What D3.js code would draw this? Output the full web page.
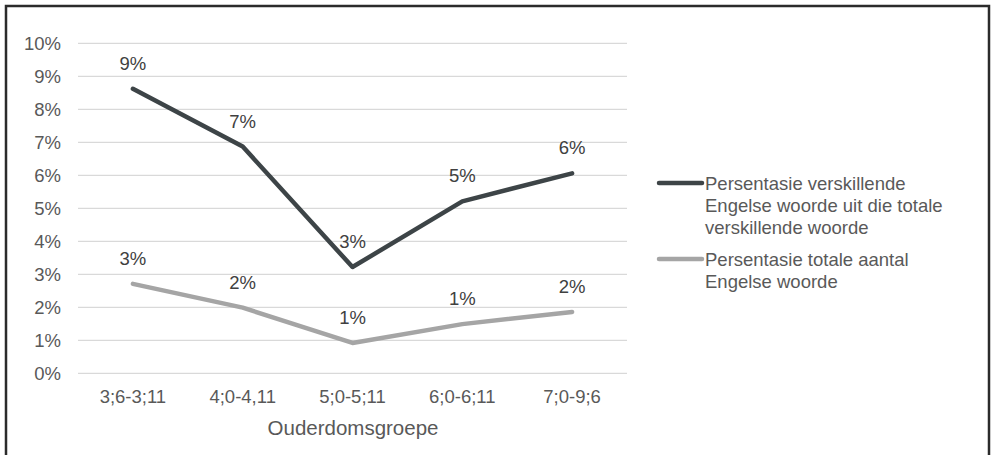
<!DOCTYPE html>
<meta charset="utf-8">
<head>
<script src="https://d3js.org/d3.v7.min.js"></script>
<style>
    body { margin: 0; background: #fff; }
    text { font-family: "Liberation Sans", Arial, sans-serif; fill: #595959; font-size: 18.5px; }
    .grid line { stroke: #d9d9d9; stroke-width: 1.3px; }
</style>
</head>
<body>
<svg id="chart" width="991" height="455"></svg>
<script>
    // chart data
    var groups = ["3;6-3;11", "4;0-4,11", "5;0-5;11", "6;0-6;11", "7;0-9;6"];
    var distinctPct = [8.62, 6.87, 3.22, 5.21, 6.06];
    var totalPct = [2.71, 1.99, 0.92, 1.49, 1.86];
    var yTicks = [0, 1, 2, 3, 4, 5, 6, 7, 8, 9, 10];
    var seriesNames = [
      ["Persentasie verskillende", "Engelse woorde uit die totale", "verskillende woorde"],
      ["Persentasie totale aantal", "Engelse woorde"]
    ];
    var colors = ["#3d4447", "#a5a5a5"];

    var svg = d3.select("#chart");

    // outer frame (no bottom edge in the picture)
    svg.append("path")
      .attr("d", "M6,455 V6 H989 V455")
      .attr("fill", "none")
      .attr("stroke", "#2b2b2b")
      .attr("stroke-width", 2.5);

    var x = d3.scaleBand().domain(groups).range([78, 627]);
    var y = d3.scaleLinear().domain([0, 10]).range([373.3, 43.3]);
    var cx = function(i) { return x(groups[i]) + x.bandwidth() / 2; };

    // gridlines
    svg.append("g").attr("class", "grid")
      .selectAll("line").data(yTicks).enter().append("line")
      .attr("x1", 78).attr("x2", 627)
      .attr("y1", function(d) { return y(d); })
      .attr("y2", function(d) { return y(d); });

    // y labels
    svg.append("g").selectAll("text").data(yTicks).enter().append("text")
      .attr("x", 61).attr("y", function(d) { return y(d); })
      .attr("dy", "0.35em")
      .attr("text-anchor", "end")
      .text(function(d) { return d + "%"; });

    // x labels
    svg.append("g").selectAll("text").data(groups).enter().append("text")
      .attr("x", function(d, i) { return cx(i); })
      .attr("y", 403)
      .attr("text-anchor", "middle")
      .text(function(d) { return d; });

    svg.append("text")
      .attr("x", 353).attr("y", 435)
      .attr("text-anchor", "middle")
      .style("font-size", "20.5px")
      .text("Ouderdomsgroepe");

    var line = d3.line()
      .x(function(d, i) { return cx(i); })
      .y(function(d) { return y(d); });

    [distinctPct, totalPct].forEach(function(vals, s) {
      svg.append("path")
        .datum(vals)
        .attr("d", line)
        .attr("fill", "none")
        .attr("stroke", colors[s])
        .attr("stroke-width", 4.5)
        .attr("stroke-linecap", "round")
        .attr("stroke-linejoin", "round");

      svg.append("g").selectAll("text").data(vals).enter().append("text")
        .attr("x", function(d, i) { return cx(i); })
        .attr("y", function(d) { return y(d) - 19; })
        .attr("text-anchor", "middle")
        .style("fill", "#404040")
        .text(function(d) { return Math.round(d) + "%"; });
    });

    // legend
    var legendY = [183, 259];
    seriesNames.forEach(function(lines, s) {
      svg.append("line")
        .attr("x1", 659).attr("x2", 702)
        .attr("y1", legendY[s]).attr("y2", legendY[s])
        .attr("stroke", colors[s])
        .attr("stroke-width", 4.5)
        .attr("stroke-linecap", "round");
      svg.append("g").selectAll("text").data(lines).enter().append("text")
        .attr("x", 705)
        .attr("y", function(d, k) { return legendY[s] + 6.5 + k * 22; })
        .text(function(d) { return d; });
    });
</script>
</body>
